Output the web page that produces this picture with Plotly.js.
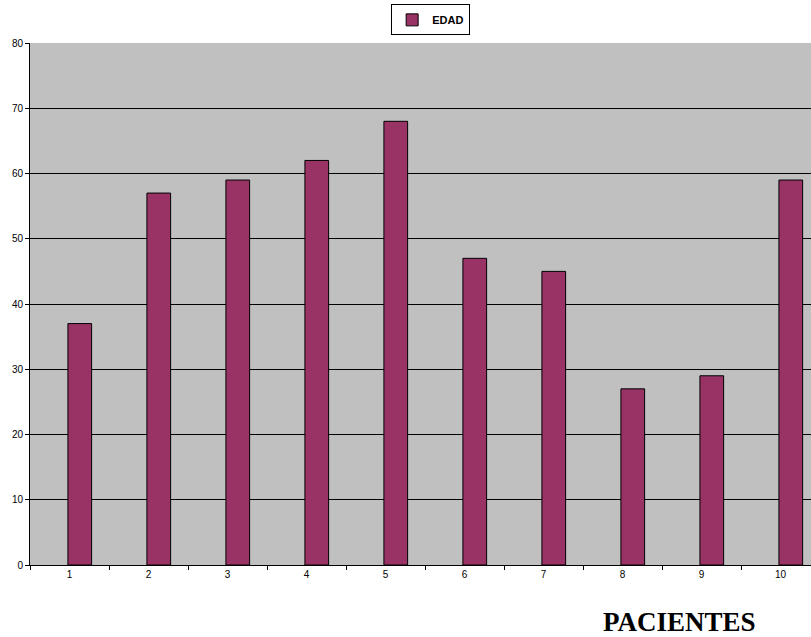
<!DOCTYPE html>
<html>
<head>
<meta charset="utf-8">
<script src="https://cdn.plot.ly/plotly-3.0.1.min.js"></script>
<style>html,body{margin:0;padding:0;background:#fff;}#chart{width:811px;height:637px;}</style>
</head>
<body>
<div id="chart"></div>
<script>
const pacientes = ["1","2","3","4","5","6","7","8","9","10"];
const edad = [37, 57, 59, 62, 68, 47, 45, 27, 29, 59];
const seriesName = "EDAD";
const xTitle = "PACIENTES";

const trace = {
  type: "bar",
  x: pacientes,
  y: edad,
  name: seriesName,
  width: 0.30,
  offset: -0.02,
  marker: {color: "#993366", line: {color: "#000000", width: 1}},
  showlegend: true
};

const layout = {
  width: 811, height: 637,
  margin: {l: 30, r: 0, t: 43, b: 72},
  paper_bgcolor: "#ffffff",
  plot_bgcolor: "#c0c0c0",
  font: {family: "Arial, Liberation Sans, sans-serif", size: 10, color: "#000"},
  xaxis: {
    type: "category",
    range: [-0.5, 9.386],
    tickson: "boundaries",
    ticks: "outside", ticklen: 4, tickcolor: "#000",
    showline: true, linecolor: "#000", linewidth: 1,
    showgrid: false, zeroline: false,
    tickfont: {size: 10, color: "#000"}
  },
  yaxis: {
    range: [0, 80],
    dtick: 10,
    ticks: "outside", ticklen: 4, tickcolor: "#000",
    showline: true, linecolor: "#000", linewidth: 1,
    showgrid: true, gridcolor: "#000", gridwidth: 1,
    zeroline: false,
    tickfont: {size: 10, color: "#000"}
  },
  showlegend: true,
  legend: {
    orientation: "h",
    x: 0.513, xanchor: "center",
    y: 1.074, yanchor: "top",
    bgcolor: "#fff",
    bordercolor: "#000", borderwidth: 1,
    font: {size: 11, color: "#000", family: "Arial, Liberation Sans, sans-serif", weight: "bold"},
    itemwidth: 30
  },
  annotations: [{
    text: "<b>" + xTitle + "</b>",
    xref: "paper", yref: "paper",
    x: 0.832, y: -0.109,
    xanchor: "center", yanchor: "middle",
    showarrow: false,
    font: {family: "Times New Roman, Liberation Serif, serif", size: 27, color: "#000"}
  }]
};

Plotly.newPlot("chart", [trace], layout, {displayModeBar: false, staticPlot: true});
</script>
</body>
</html>
